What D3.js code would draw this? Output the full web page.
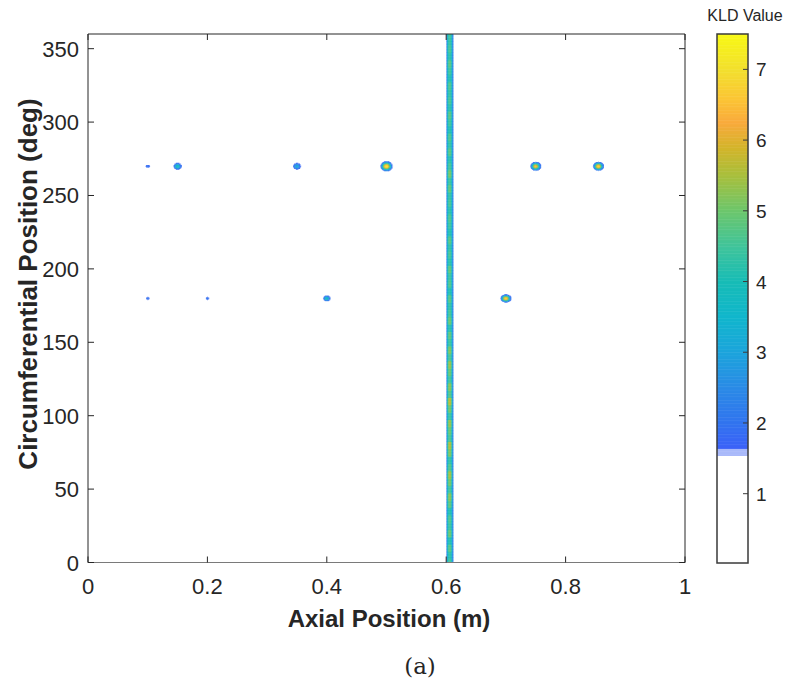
<!DOCTYPE html>
<html>
<head>
<meta charset="utf-8">
<script src="https://cdn.jsdelivr.net/npm/d3@7"></script>
<style>
  body { margin: 0; background: #fff; }
  svg text { font-family: "Liberation Sans", Arial, sans-serif; fill: #262626; }
</style>
</head>
<body>
<svg id="chart" width="785" height="684"></svg>
<script>
// spots (x in m, y in deg, peak KLD, half-size at the 1.55 contour)
var spotX    = [0.10, 0.15, 0.35, 0.50, 0.75, 0.855, 0.10, 0.20, 0.40, 0.70];
var spotY    = [270, 270, 270, 270, 270, 270, 180, 180, 180, 180];
var spotPeak = [2.2, 4.0, 3.2, 7.4, 6.6, 7.1, 2.2, 2.2, 3.9, 7.0];
var spotRx   = [0.0034, 0.0066, 0.0064, 0.0102, 0.0090, 0.0090, 0.0025, 0.0025, 0.0060, 0.0090];
var spotRy   = [0.8, 2.3, 2.2, 3.4, 3.0, 3.0, 1.0, 1.0, 1.9, 2.7];

// vertical band at x = 0.606 m, centre value every 5 deg from 0 to 360
var bandX = 0.606, bandRx = 0.0058;
var bandVals = [4.6, 4.3, 4.8, 4.2, 5.0, 4.5, 4.7, 4.2, 4.9, 5.3, 4.6, 5.1, 5.5, 4.8, 4.4,
                5.2, 5.6, 4.7, 5.0, 5.4, 4.5, 5.1, 5.7, 4.8, 5.3, 4.6, 5.0, 5.4, 4.7, 5.2,
                4.5, 4.9, 4.3, 5.0, 4.6, 4.4, 4.8, 4.2, 4.7, 4.5, 4.9, 4.3, 4.6, 4.4, 4.8,
                4.2, 4.5, 4.7, 4.3, 4.6, 4.4, 4.9, 4.5, 5.1, 4.6, 4.3, 4.8, 4.4, 4.7, 4.2,
                4.5, 4.8, 4.3, 4.6, 4.4, 4.7, 4.2, 4.5, 4.8, 4.3, 4.6, 4.4, 4.5];

var xTicks = [0, 0.2, 0.4, 0.6, 0.8, 1];
var yTicks = [0, 50, 100, 150, 200, 250, 300, 350];
var cbTicks = [1, 2, 3, 4, 5, 6, 7];

// colormap (parula-like), white below threshold
var threshold = 1.55, lowEdge = 1.65;
var cmapVals = [1.65, 2.0, 2.5, 3.0, 3.5, 4.0, 4.5, 5.0, 5.5, 5.9, 6.25, 6.6, 7.0, 7.5];
var cmapCols = ["#3c62f8", "#3174ef", "#2a8ae6", "#1ca4dc", "#10b6cc", "#17bcb6", "#40c49a",
                "#6cc66c", "#a8bf3c", "#d4b42a", "#f9aa3c", "#fbc634", "#f2e02e", "#f8f814"];

var cmap = d3.scaleLinear().domain(cmapVals).range(cmapCols).clamp(true);
function colorOf(v) {
  if (v < threshold) return "#ffffff";
  if (v < lowEdge) return "#a9b9fa";
  return cmap(v);
}

var svg = d3.select("#chart");
var plot = {left: 88, right: 685, top: 34, bottom: 562.5};

var x = d3.scaleLinear().domain([0, 1]).range([plot.left, plot.right]);
var y = d3.scaleLinear().domain([0, 360]).range([plot.bottom, plot.top]);

// field value at a grid point
function field(px, py) {
  var v = 0;
  for (var i = 0; i < spotX.length; i++) {
    var s2 = Math.log(spotPeak[i] / threshold);
    var dx = (px - spotX[i]) / spotRx[i], dy = (py - spotY[i]) / spotRy[i];
    v = Math.max(v, spotPeak[i] * Math.exp(-(dx * dx + dy * dy) * s2));
  }
  var bv = bandVals[Math.min(bandVals.length - 1, Math.round(py / 5))];
  var db = (px - bandX) / bandRx;
  // flatter profile across the band: teal/green core, thin blue edges
  v = Math.max(v, bv * Math.exp(-Math.pow(Math.abs(db), 3) * Math.log(bv / threshold)));
  return v;
}

var dxStep = 0.001, dyStep = 0.5;
var cells = [];
for (var gx = 0; gx <= 1 + 1e-9; gx += dxStep) {
  for (var gy = 0; gy <= 360 + 1e-9; gy += dyStep) {
    var v = field(gx, gy);
    if (v >= threshold) cells.push({x: gx, y: gy, v: v});
  }
}

svg.append("g")
    .attr("class", "cells")
  .selectAll("rect")
  .data(cells)
  .enter().append("rect")
    .attr("x", d => x(d.x - dxStep / 2))
    .attr("y", d => y(Math.min(360, d.y + dyStep / 2)))
    .attr("width", x(dxStep) - x(0) + 0.3)
    .attr("height", d => y(Math.max(0, d.y - dyStep / 2)) - y(Math.min(360, d.y + dyStep / 2)) + 0.3)
    .attr("fill", d => colorOf(d.v));

// axes box
var axisColor = "#262626";
var tickLen = 6;
var axes = svg.append("g").attr("class", "axes");

axes.append("line").attr("x1", plot.left).attr("x2", plot.right).attr("y1", plot.top).attr("y2", plot.top)
    .attr("stroke", axisColor);
axes.append("line").attr("x1", plot.right).attr("x2", plot.right).attr("y1", plot.top).attr("y2", plot.bottom)
    .attr("stroke", axisColor);
axes.append("line").attr("x1", plot.left).attr("x2", plot.left).attr("y1", plot.top).attr("y2", plot.bottom)
    .attr("stroke", axisColor);
axes.append("line").attr("x1", plot.left).attr("x2", plot.right).attr("y1", plot.bottom).attr("y2", plot.bottom)
    .attr("stroke", "#7a7a7a");

xTicks.forEach(function(t) {
  axes.append("line").attr("x1", x(t)).attr("x2", x(t)).attr("y1", plot.bottom).attr("y2", plot.bottom - tickLen)
      .attr("stroke", axisColor);
  axes.append("line").attr("x1", x(t)).attr("x2", x(t)).attr("y1", plot.top).attr("y2", plot.top + tickLen)
      .attr("stroke", axisColor);
  axes.append("text").attr("x", x(t)).attr("y", 594).attr("text-anchor", "middle")
      .style("font-size", "22px").text(d3.format("")(t));
});

yTicks.forEach(function(t) {
  axes.append("line").attr("x1", plot.left).attr("x2", plot.left + tickLen).attr("y1", y(t)).attr("y2", y(t))
      .attr("stroke", axisColor);
  axes.append("line").attr("x1", plot.right).attr("x2", plot.right - tickLen).attr("y1", y(t)).attr("y2", y(t))
      .attr("stroke", axisColor);
  axes.append("text").attr("x", 79).attr("y", y(t) + 8).attr("text-anchor", "end")
      .style("font-size", "22px").text(t);
});

svg.append("text").attr("x", 389).attr("y", 627).attr("text-anchor", "middle")
    .style("font-size", "24px").style("font-weight", "bold").text("Axial Position (m)");
svg.append("text").attr("transform", "translate(37,284) rotate(-90)").attr("text-anchor", "middle")
    .style("font-size", "26px").style("font-weight", "bold").text("Circumferential Position (deg)");
svg.append("text").attr("x", 420).attr("y", 674).attr("text-anchor", "middle")
    .style("font-family", "'DejaVu Serif', 'Liberation Serif', serif").style("font-size", "23px").text("(a)");

// colorbar
var cb = {left: 717, right: 748, top: 34, bottom: 563};
var cy = d3.scaleLinear().domain([0.02, 7.5]).range([cb.bottom, cb.top]);
var cbStep = 0.02;
var cbVals = d3.range(0.02, 7.5, cbStep);

var key = svg.append("g").attr("class", "colorbar");
key.selectAll("rect")
  .data(cbVals)
  .enter().append("rect")
    .attr("x", cb.left)
    .attr("y", d => cy(Math.min(7.5, d + cbStep)))
    .attr("width", cb.right - cb.left)
    .attr("height", d => cy(d) - cy(Math.min(7.5, d + cbStep)) + 0.5)
    .attr("fill", d => colorOf(d + cbStep / 2));

key.append("rect")
    .attr("x", cb.left).attr("y", cb.top)
    .attr("width", cb.right - cb.left).attr("height", cb.bottom - cb.top)
    .attr("fill", "none").attr("stroke", "#3a3a3a").attr("stroke-width", 1.5);

cbTicks.forEach(function(t) {
  key.append("line").attr("x1", cb.right).attr("x2", cb.right - 5).attr("y1", cy(t)).attr("y2", cy(t))
      .attr("stroke", "#3a3a3a");
  key.append("text").attr("x", cb.right + 8).attr("y", cy(t) + 7)
      .style("font-size", "19px").text(t);
});

key.append("text").attr("x", 745).attr("y", 21).attr("text-anchor", "middle")
    .style("font-size", "16px").text("KLD Value");
</script>
</body>
</html>
